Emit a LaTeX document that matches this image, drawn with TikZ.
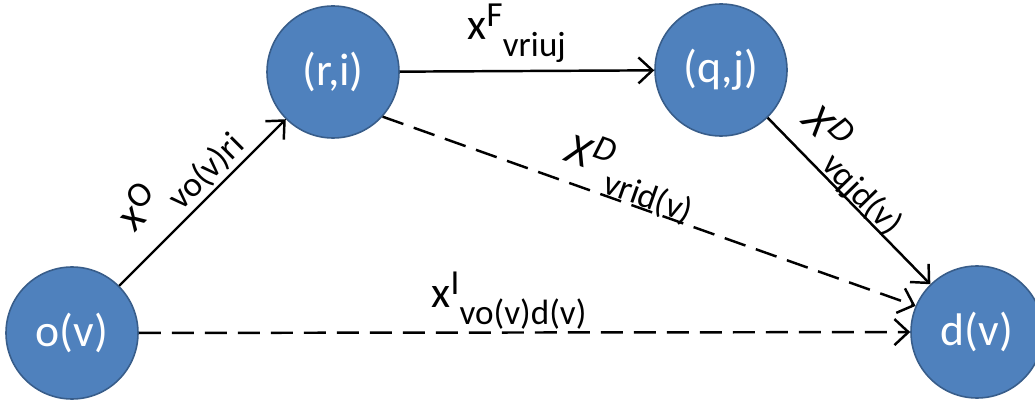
\documentclass[tikz,border=0pt]{standalone}
\usepackage{fontspec}
\setmainfont{Carlito}
\usetikzlibrary{arrows.meta}
\definecolor{nodeblue}{RGB}{79,129,189}
\definecolor{rimblue}{RGB}{56,93,138}
\newcommand{\flowvar}[3]{#1\raisebox{2.6mm}{\fontsize{20}{24}\selectfont #2}\raisebox{-3.4mm}{\fontsize{20}{24}\selectfont #3}}

\begin{document}
\begin{tikzpicture}[>={Straight Barb[length=2.8mm,width=5.2mm]},
stop/.style={circle,fill=nodeblue,draw=rimblue,line width=.9pt,minimum size=26.4mm,inner sep=0pt,text=white,font=\fontsize{26}{31}\selectfont},
arc/.style={->,line width=1.4pt},
dasharc/.style={arc,dash pattern=on 4.4mm off 2.2mm},
varlabel/.style={font=\fontsize{25}{30}\selectfont,sloped,anchor=south,inner xsep=0pt}]
\useasboundingbox (0,0) rectangle (20.7,8.08);
\node[stop] (o) at (1.44,1.42) {o(v)};
\node[stop] (ri) at (6.66,6.64) {(r,i)};
\node[stop] (qj) at (14.42,6.68) {(q,j)};
\node[stop] (d) at (19.54,1.44) {d(v)};
\draw[arc] (o) -- node[varlabel,pos=.5,inner ysep=.5mm] {\flowvar{x}{O}{\,vo(v)ri}} (ri);
\draw[arc] (ri) -- node[varlabel,pos=.46,inner ysep=1.5mm] {\flowvar{x}{F}{vriuj}} (qj);
\draw[dasharc] (ri.-42) -- node[varlabel,pos=.45,inner ysep=-.8mm] {\flowvar{\textit{X}}{\textit{D}}{vrid(v)}} (d.157);
\draw[arc] (qj) -- node[varlabel,pos=.42,inner ysep=-.8mm] {\flowvar{\textit{X}}{\textit{D}}{vqjd(v)}} (d);
\draw[dasharc] (o) -- node[varlabel,pos=.48,inner ysep=.3mm] {\flowvar{x}{I}{vo(v)d(v)}} (d);
\end{tikzpicture}
\end{document}
